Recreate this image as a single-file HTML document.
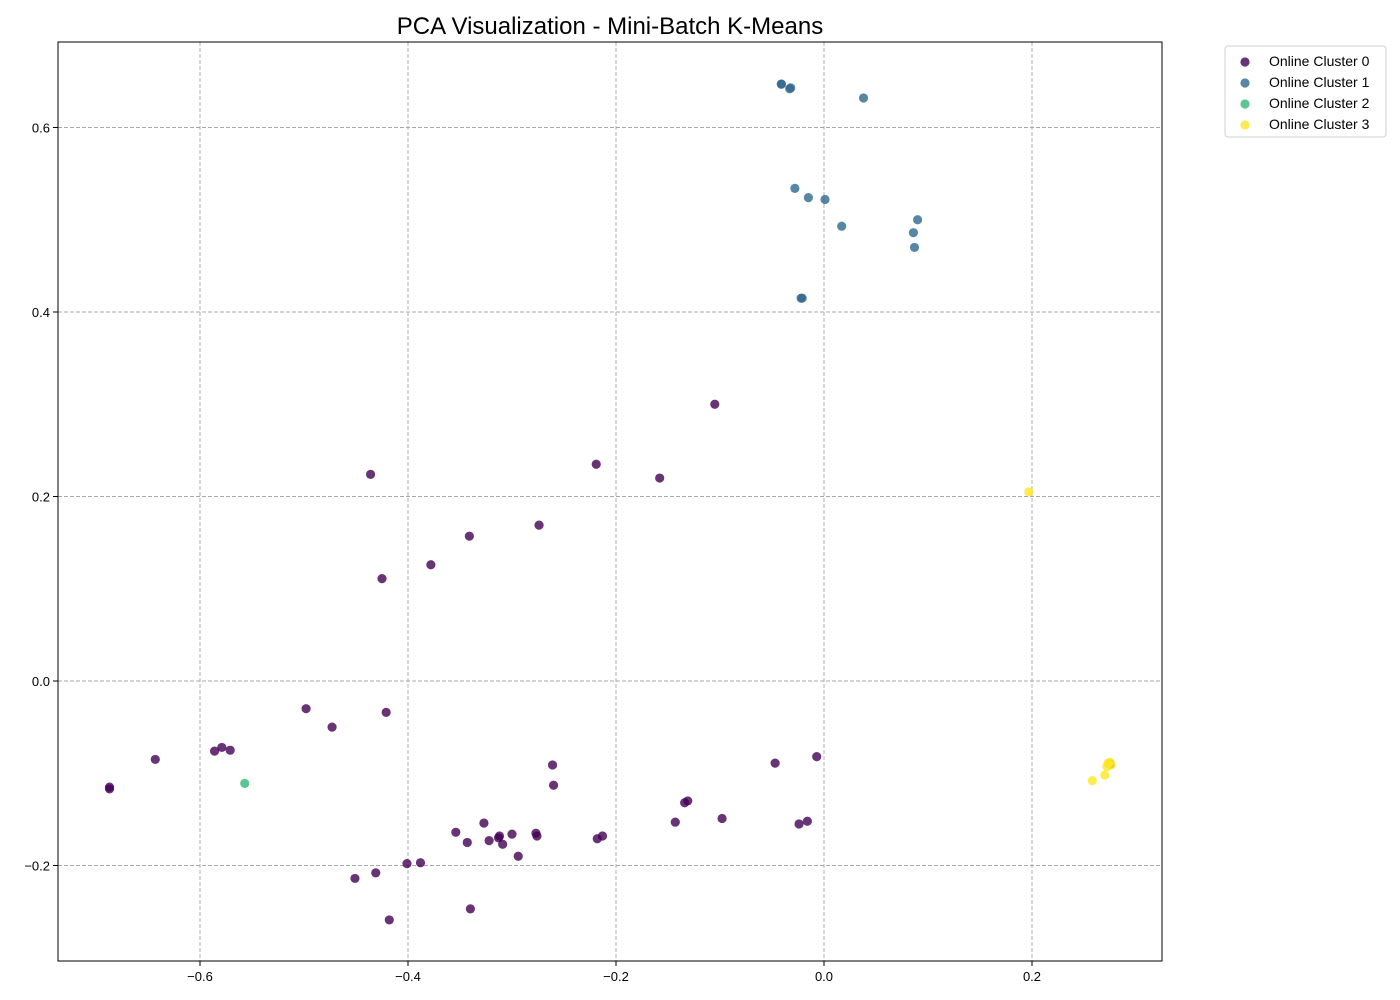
<!DOCTYPE html>
<html><head><meta charset="utf-8"><style>
body{margin:0;background:#fff;}
svg{display:block;font-family:"Liberation Sans","DejaVu Sans",sans-serif;}
</style></head><body>
<svg id="chart" width="1400" height="1000"></svg>
<script>
const seriesNames=["Online Cluster 0","Online Cluster 1","Online Cluster 2","Online Cluster 3"];
const cluster0X=[-0.687,-0.687,-0.643,-0.586,-0.579,-0.571,-0.498,-0.473,-0.421,-0.436,-0.425,-0.378,-0.341,-0.274,-0.219,-0.158,-0.105,-0.261,-0.260,-0.354,-0.343,-0.327,-0.322,-0.313,-0.312,-0.309,-0.300,-0.294,-0.277,-0.276,-0.218,-0.213,-0.451,-0.431,-0.401,-0.388,-0.418,-0.340,-0.143,-0.134,-0.131,-0.098,-0.047,-0.007,-0.024,-0.016,0.275];
const cluster0Y=[-0.117,-0.115,-0.085,-0.076,-0.072,-0.075,-0.030,-0.050,-0.034,0.224,0.111,0.126,0.157,0.169,0.235,0.220,0.300,-0.091,-0.113,-0.164,-0.175,-0.154,-0.173,-0.170,-0.168,-0.177,-0.166,-0.190,-0.165,-0.168,-0.171,-0.168,-0.214,-0.208,-0.198,-0.197,-0.259,-0.247,-0.153,-0.132,-0.130,-0.149,-0.089,-0.082,-0.155,-0.152,-0.090];
const cluster1X=[-0.041,-0.041,-0.032,-0.033,0.038,-0.028,-0.015,0.001,0.017,0.090,0.086,0.087,-0.021,-0.022];
const cluster1Y=[0.647,0.647,0.643,0.642,0.632,0.534,0.524,0.522,0.493,0.500,0.486,0.470,0.415,0.415];
const cluster2X=[-0.557];
const cluster2Y=[-0.111];
const cluster3X=[0.197,0.258,0.270,0.272,0.273,0.275,0.276];
const cluster3Y=[0.205,-0.108,-0.102,-0.093,-0.089,-0.088,-0.091];
const xTicks=[-0.6,-0.4,-0.2,0.0,0.2];
const yTicks=[-0.2,0.0,0.2,0.4,0.6];
const colors=["#440154","#31688e","#35b779","#fde725"];
const L=58,R=1162,T=42,B=961;
const xs=v=>824+v*1040;
const ys=v=>681-v*922.5;
const svg=document.getElementById('chart');
const NS="http://www.w3.org/2000/svg";
function mk(tag,attrs,parent){const e=document.createElementNS(NS,tag);for(const k in attrs)e.setAttribute(k,attrs[k]);(parent||svg).appendChild(e);return e;}
const title=mk('text',{x:610,y:34,'text-anchor':'middle','font-size':24,fill:'#000'});
title.textContent='PCA Visualization - Mini-Batch K-Means';


const grid=mk('g',{});


xTicks.forEach(t=>{
  const x=xs(t);
  mk('line',{x1:x,x2:x,y1:T,y2:B,stroke:'#a8a8a8','stroke-dasharray':'4,2','stroke-width':0.9},grid);
  mk('line',{x1:x,x2:x,y1:B,y2:B+5,stroke:'#000'});
  const lb=mk('text',{x:x,y:B+20,'text-anchor':'middle','font-size':13});
  lb.textContent=(t<0?'\u2212':'')+Math.abs(t).toFixed(1);
  
  
});
yTicks.forEach(t=>{
  const y=ys(t);
  mk('line',{x1:L,x2:R,y1:y,y2:y,stroke:'#a8a8a8','stroke-dasharray':'4,2','stroke-width':0.9},grid);
  mk('line',{x1:L-5,x2:L,y1:y,y2:y,stroke:'#000'});
  const lb=mk('text',{x:L-8,y:y+5,'text-anchor':'end','font-size':13});
  lb.textContent=(t<0?'\u2212':'')+Math.abs(t).toFixed(1);
  
  
});
const seriesX=[cluster0X,cluster1X,cluster2X,cluster3X];
const seriesY=[cluster0Y,cluster1Y,cluster2Y,cluster3Y];
seriesX.forEach((arr,s)=>{
  const g=mk('g',{});
  
  
  arr.forEach((v,i)=>{
    const c=mk('circle',{cx:xs(v),cy:ys(seriesY[s][i]),r:4.6,fill:colors[s],'fill-opacity':0.8},g);
    
    
  });
});
const frame=mk('rect',{x:L,y:T,width:R-L,height:B-T,fill:'none',stroke:'#000','stroke-width':1});


const leg=mk('g',{});


mk('rect',{x:1225,y:46,width:161,height:91,rx:3,fill:'#fff',stroke:'#d0d0d0'},leg);
seriesNames.forEach((n,i)=>{
  const y=61+i*21;
  mk('circle',{cx:1245,cy:y+1,r:4.6,fill:colors[i],'fill-opacity':0.8},leg);
  const t=mk('text',{x:1269,y:y+5,'font-size':14},leg);
  t.textContent=n;
  
  
});
</script>
</body></html>
